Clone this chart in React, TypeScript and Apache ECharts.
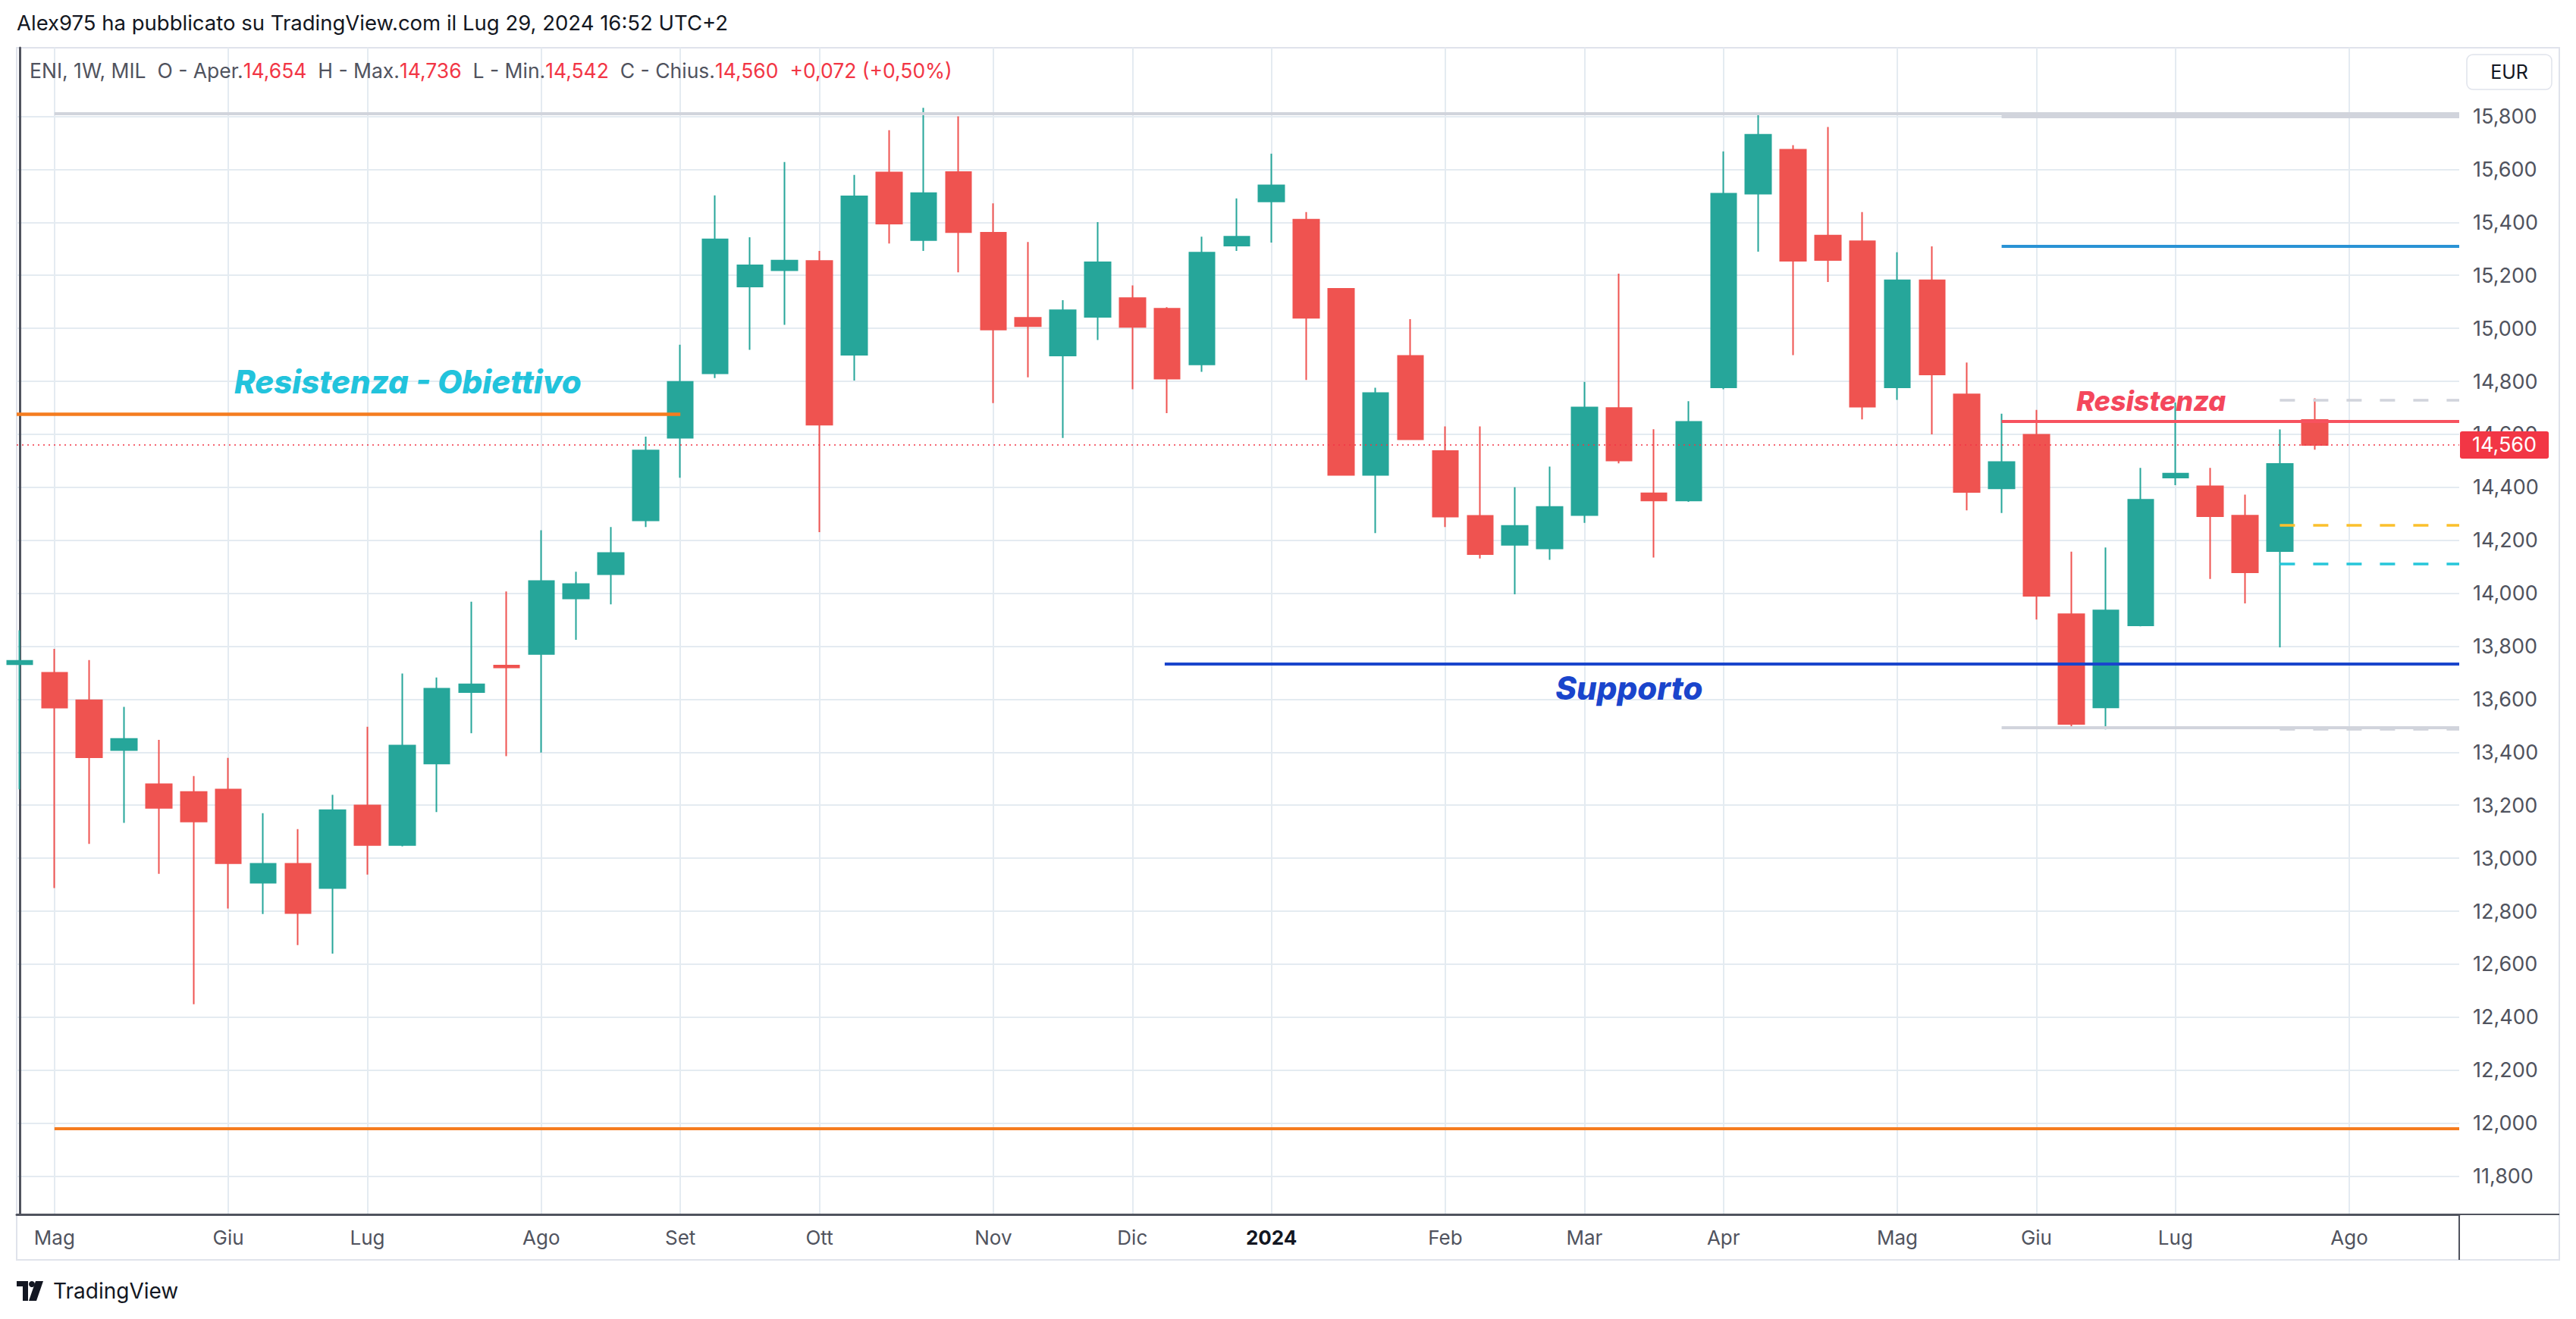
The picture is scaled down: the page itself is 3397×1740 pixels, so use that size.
import React, { useEffect, useRef } from "react";
import * as echarts from "echarts";

// ---------- DATA ----------
const START_MONDAY = Date.UTC(2023, 3, 24); // first weekly candle
const WEEK_MS = 7 * 24 * 3600 * 1000;

const opens = [
  13.732, 13.700, 13.596, 13.408, 13.279, 13.250, 13.259, 12.907, 12.979, 12.887,
  13.199, 13.050, 13.357, 13.627, 13.727, 13.771, 13.980, 14.072, 14.275, 14.587,
  14.830, 15.158, 15.219, 15.254, 14.900, 15.588, 15.333, 15.590, 15.361, 15.040,
  14.897, 15.043, 15.114, 15.074, 14.864, 15.312, 15.479, 15.410, 15.149, 14.447,
  14.896, 14.537, 14.292, 14.183, 14.169, 14.295, 14.699, 14.377, 14.350, 14.777,
  15.508, 15.674, 15.350, 15.329, 14.777, 15.181, 14.751, 14.396, 14.598, 13.921,
  13.569, 13.879, 14.437, 14.404, 14.293, 14.159, 14.654,
];
const closes = [
  13.745, 13.568, 13.381, 13.450, 13.190, 13.138, 12.981, 12.979, 12.793, 13.181,
  13.050, 13.425, 13.640, 13.656, 13.720, 14.046, 14.035, 14.152, 14.539, 14.798,
  15.336, 15.238, 15.256, 14.636, 15.498, 15.395, 15.510, 15.363, 14.995, 15.008,
  15.068, 15.249, 15.005, 14.810, 15.286, 15.346, 15.540, 15.040, 14.447, 14.756,
  14.581, 14.289, 14.148, 14.254, 14.326, 14.701, 14.501, 14.350, 14.647, 15.508,
  15.731, 15.255, 15.258, 14.704, 15.181, 14.826, 14.382, 14.495, 13.990, 13.507,
  13.935, 14.353, 14.452, 14.291, 14.079, 14.488, 14.560,
];
const lows = [
  13.260, 12.887, 13.054, 13.133, 12.941, 12.449, 12.810, 12.789, 12.672, 12.640,
  12.938, 13.045, 13.174, 13.472, 13.385, 13.399, 13.824, 13.958, 14.250, 14.436,
  14.812, 14.919, 15.013, 14.231, 14.803, 15.320, 15.292, 15.211, 14.718, 14.815,
  14.586, 14.956, 14.770, 14.680, 14.836, 15.292, 15.324, 14.805, 14.444, 14.227,
  14.578, 14.250, 14.131, 13.996, 14.126, 14.266, 14.490, 14.135, 14.345, 14.770,
  15.289, 14.899, 15.175, 14.656, 14.730, 14.600, 14.313, 14.303, 13.901, 13.498,
  13.486, 13.875, 14.408, 14.054, 13.962, 13.796, 14.542,
];
const highs = [
  13.860, 13.790, 13.748, 13.571, 13.447, 13.310, 13.379, 13.170, 13.110, 13.239,
  13.496, 13.697, 13.682, 13.968, 14.007, 14.238, 14.081, 14.250, 14.591, 14.938,
  15.502, 15.344, 15.628, 15.292, 15.579, 15.748, 15.832, 15.800, 15.472, 15.326,
  15.106, 15.401, 15.162, 15.080, 15.346, 15.490, 15.659, 15.439, 15.152, 14.776,
  15.035, 14.630, 14.630, 14.400, 14.478, 14.798, 15.206, 14.619, 14.725, 15.668,
  15.806, 15.691, 15.760, 15.439, 15.287, 15.309, 14.871, 14.678, 14.692, 14.157,
  14.173, 14.473, 14.720, 14.473, 14.372, 14.618, 14.736,
];

const monthNames = ["Gen", "Feb", "Mar", "Apr", "Mag", "Giu", "Lug", "Ago", "Set", "Ott", "Nov", "Dic"];
const priceTicks = [11800, 12000, 12200, 12400, 12600, 12800, 13000, 13200, 13400, 13600, 13800,
  14000, 14200, 14400, 14600, 14800, 15000, 15200, 15400, 15600, 15800].map((v) => v / 1000);

// drawn horizontal levels (solid)
const levelNames = ["maxGray", "maxGray2", "blue", "resistRed", "targetOrange", "support", "minGray", "lowOrange"];
const levelValues = [15.812, 15.800, 15.310, 14.648, 14.676, 13.733, 13.492, 11.980];
const levelFrom = [1, 57, 57, 57, null, 32.93, 57, 1];
const levelTo = [null, null, null, null, 19, null, null, null];

// dashed levels (position tool)
const dashNames = ["dashGray", "dashYellow", "dashCyan", "dashGray2"];
const dashValues = [14.728, 14.256, 14.110, 13.486];
const dashFrom = 65;

// text notes
const noteTexts = ["Resistenza - Obiettivo", "Supporto", "Resistenza"];
const noteX = [6.17, 44.17, 59.15];
const noteY = [14.800, 13.644, 14.727];

// ---------- STYLE / LAYOUT ----------
const FONT = 'Inter, "Noto Sans", "Liberation Sans", sans-serif';
const UP = "#26a69a";
const DOWN = "#ef5350";
const X_MIN = -0.087;
const X_MAX = 70.16;
const Y_MIN = 11.6555;
const Y_MAX = 16.059;

const levelStyle: Record<string, { color: string; width: number }> = {
  maxGray: { color: "#d1d4dc", width: 4 },
  maxGray2: { color: "#d1d4dc", width: 4 },
  blue: { color: "#2a93d5", width: 4 },
  resistRed: { color: "#f7525f", width: 4 },
  targetOrange: { color: "#f57c1f", width: 4.5 },
  support: { color: "#1a45cc", width: 4 },
  minGray: { color: "#d1d4dc", width: 4 },
  lowOrange: { color: "#f57c1f", width: 4 },
};
const dashStyle: Record<string, string> = {
  dashGray: "#d1d4dc",
  dashYellow: "#fbc02d",
  dashCyan: "#26c6da",
  dashGray2: "#d1d4dc",
};
const noteStyle = [
  { color: "#22c3dc", fontSize: 42 },
  { color: "#1a45cc", fontSize: 42 },
  { color: "#f4475c", fontSize: 36 },
];

const fmt = (v: number) => v.toFixed(3).replace(".", ",");

function buildOption() {
  const candleData = opens.map((o, i) => [i, o, closes[i], lows[i], highs[i]]);

  // month ticks from weekly dates
  const monthTicks: number[] = [];
  const monthLabel: Record<number, string> = {};
  for (let i = 0; i <= Math.floor(X_MAX); i++) {
    const d = new Date(START_MONDAY + i * WEEK_MS);
    const p = new Date(START_MONDAY + (i - 1) * WEEK_MS);
    if (d.getUTCMonth() !== p.getUTCMonth()) {
      monthTicks.push(i);
      monthLabel[i] = d.getUTCMonth() === 0 ? String(d.getUTCFullYear()) : monthNames[d.getUTCMonth()];
    }
  }

  const solidLines = levelValues.map((v, k) => [
    {
      coord: [levelFrom[k] == null ? X_MIN : levelFrom[k], v],
      lineStyle: { color: levelStyle[levelNames[k]].color, width: levelStyle[levelNames[k]].width, type: "solid", opacity: 1 },
    },
    { coord: [levelTo[k] == null ? X_MAX : levelTo[k], v] },
  ]);
  const dashedLines = dashValues.map((v, k) => [
    { coord: [dashFrom, v], lineStyle: { color: dashStyle[dashNames[k]], width: 3.5, type: [20, 24], opacity: 1 } },
    { coord: [X_MAX, v] },
  ]);

  const last = closes[closes.length - 1];
  const prev = closes[closes.length - 2];
  const chg = last - prev;
  const pct = (chg / prev) * 100;
  const n = opens.length - 1;
  const legendText =
    `{g|ENI, 1W, MIL  O - Aper.}{r|${fmt(opens[n])}}{g|  H - Max.}{r|${fmt(highs[n])}}` +
    `{g|  L - Min.}{r|${fmt(lows[n])}}{g|  C - Chius.}{r|${fmt(closes[n])}  ${chg >= 0 ? "+" : "-"}${fmt(Math.abs(chg))} (${chg >= 0 ? "+" : "-"}${Math.abs(pct).toFixed(2).replace(".", ",")}%)}`;

  return {
    animation: false,
    backgroundColor: "#ffffff",
    textStyle: { fontFamily: FONT },
    grid: { left: 22, right: 154, top: 63, bottom: 138, containLabel: false },
    xAxis: {
      type: "value",
      min: X_MIN,
      max: X_MAX,
      axisLine: { show: true, onZero: false, lineStyle: { color: "#50535e", width: 3 } },
      axisTick: { show: false, customValues: monthTicks },
      splitLine: { show: true, lineStyle: { color: "#e4ebf1", width: 2 } },
      axisLabel: {
        customValues: monthTicks,
        margin: 17,
        fontSize: 26,
        color: "#50535e",
        fontFamily: FONT,
        formatter: (v: number) => {
          const t = monthLabel[Math.round(v)] || "";
          return /^\d{4}$/.test(t) ? `{b|${t}}` : t;
        },
        rich: { b: { fontSize: 26, fontWeight: "bold", color: "#131722", fontFamily: FONT } },
      },
    },
    yAxis: {
      type: "value",
      position: "right",
      min: Y_MIN,
      max: Y_MAX,
      axisLine: { show: true, lineStyle: { color: "#50535e", width: 3 } },
      axisTick: { show: false, customValues: priceTicks },
      splitLine: { show: true, lineStyle: { color: "#e4ebf1", width: 2 } },
      axisLabel: {
        customValues: priceTicks,
        margin: 18,
        fontSize: 27,
        color: "#50535e",
        fontFamily: FONT,
        formatter: (v: number) => fmt(v),
      },
    },
    series: [
      {
        type: "candlestick",
        data: candleData,
        barWidth: 34,
        clip: true,
        itemStyle: {
          color: UP,
          color0: DOWN,
          borderColor: UP,
          borderColor0: DOWN,
          borderWidth: 2,
        },
        markLine: {
          silent: true,
          symbol: ["none", "none"],
          animation: false,
          label: { show: false },
          data: [
            ...solidLines,
            ...dashedLines,
            {
              yAxis: last,
              lineStyle: { color: "#f23645", width: 1.5, type: [2, 5], opacity: 1 },
              label: {
                show: true,
                position: "end",
                distance: 1,
                formatter: () => fmt(last),
                backgroundColor: "#f23645",
                color: "#ffffff",
                fontSize: 27,
                fontFamily: FONT,
                padding: [5, 16, 4, 16],
                borderRadius: 3,
              },
            },
          ],
        },
      },
      {
        type: "scatter",
        symbolSize: 0,
        silent: true,
        z: 10,
        itemStyle: { opacity: 1 },
        data: noteTexts.map((t, k) => ({
          value: [noteX[k], noteY[k]],
          name: t,
          label: { color: noteStyle[k].color, fontSize: noteStyle[k].fontSize },
        })),
        label: {
          show: true,
          position: "right",
          distance: 0,
          formatter: "{b}",
          fontStyle: "italic",
          fontWeight: 800,
          fontFamily: FONT,
          opacity: 1,
        },
      },
    ],
    graphic: [
      {
        type: "rect",
        silent: true,
        shape: { x: 22, y: 63, width: 3353, height: 1599 },
        style: { fill: "none", stroke: "#e0e3eb", lineWidth: 2 },
      },
      { type: "line", silent: true, shape: { x1: 3243, y1: 1602, x2: 3243, y2: 1662 }, style: { stroke: "#50535e", lineWidth: 2 } },
      { type: "line", silent: true, shape: { x1: 3243, y1: 1602, x2: 3375, y2: 1602 }, style: { stroke: "#50535e", lineWidth: 2 } },
      {
        type: "text",
        silent: true,
        x: 22,
        y: 30,
        style: {
          text: "Alex975 ha pubblicato su TradingView.com il Lug 29, 2024 16:52 UTC+2",
          fill: "#131722",
          font: `27.5px ${FONT}`,
          verticalAlign: "middle",
        },
      },
      {
        type: "text",
        silent: true,
        x: 39,
        y: 93,
        z: 20,
        style: {
          text: legendText,
          verticalAlign: "middle",
          rich: {
            g: { fill: "#50535e", fontSize: 26.5, fontFamily: FONT },
            r: { fill: "#f23645", fontSize: 26.5, fontFamily: FONT },
          },
        },
      },
      {
        type: "rect",
        silent: true,
        z: 20,
        shape: { x: 3253, y: 72, width: 112, height: 46, r: 8 },
        style: { fill: "#ffffff", stroke: "#e0e3eb", lineWidth: 1.5 },
      },
      {
        type: "text",
        silent: true,
        z: 21,
        x: 3309,
        y: 95,
        style: { text: "EUR", fill: "#131722", font: `25px ${FONT}`, align: "center", verticalAlign: "middle" },
      },
      {
        type: "polygon",
        silent: true,
        shape: { points: [[22, 1690], [37, 1690], [37, 1716], [30, 1716], [30, 1697], [22, 1697]] },
        style: { fill: "#131722" },
      },
      { type: "circle", silent: true, shape: { cx: 42, cy: 1694, r: 4 }, style: { fill: "#131722" } },
      {
        type: "polygon",
        silent: true,
        shape: { points: [[47, 1690], [57, 1690], [48, 1716], [38, 1716]] },
        style: { fill: "#131722" },
      },
      {
        type: "text",
        silent: true,
        x: 70,
        y: 1703,
        style: { text: "TradingView", fill: "#131722", font: `28px ${FONT}`, verticalAlign: "middle" },
      },
    ],
  };
}

export default function App() {
  const ref = useRef<HTMLDivElement>(null);
  useEffect(() => {
    if (!ref.current) return;
    const chart = echarts.init(ref.current, undefined, { renderer: "svg" });
    chart.setOption(buildOption() as any);
    return () => chart.dispose();
  }, []);
  return (
    <div
      ref={ref}
      style={{ position: "absolute", left: 0, top: 0, width: 3397, height: 1740, background: "#ffffff" }}
    />
  );
}
